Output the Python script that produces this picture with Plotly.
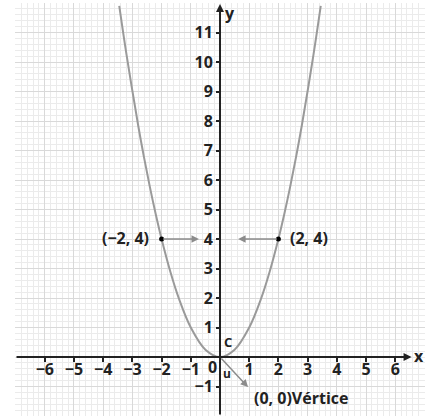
import plotly.graph_objects as go

curve_x = [-3.45, -3.2, -2.8, -2.6, -2.4, -2.2, -2.0, -1.7, -1.4, -1.0, -0.5, 0.0,
           0.5, 1.0, 1.4, 1.7, 2.0, 2.2, 2.4, 2.6, 2.8, 3.2, 3.45]
curve_y = [11.9, 10.24, 7.84, 6.76, 5.76, 4.84, 4.0, 2.89, 1.96, 1.0, 0.25, 0.0,
           0.25, 1.0, 1.96, 2.89, 4.0, 4.84, 5.76, 6.76, 7.84, 10.24, 11.9]

# marked points
pts_x = [-2, 2]
pts_y = [4, 4]

x_ticks = [-6, -5, -4, -3, -2, -1, 1, 2, 3, 4, 5, 6]
x_labels = ["−6", "−5", "−4", "−3", "−2", "−1", "1", "2", "3", "4", "5", "6"]
y_ticks = [-1, 1, 2, 3, 4, 5, 6, 7, 8, 9, 10, 11]
y_labels = ["−1", "1", "2", "3", "4", "5", "6", "7", "8", "9", "10", "11"]

x_rng = [-7.02, 7.02]
y_rng = [-2.0, 12.0]

ink = "#222222"
gray = "#8c8c8c"
font = dict(family="Open Sans", size=16, color=ink, weight="bold")

fig = go.Figure()

fig.add_trace(go.Scatter(
    x=curve_x, y=curve_y,
    mode="lines",
    line=dict(color="#9a9a9a", width=2, shape="spline"),
    hoverinfo="skip",
))

fig.add_trace(go.Scatter(
    x=pts_x, y=pts_y,
    mode="markers",
    marker=dict(color="black", size=5),
    hoverinfo="skip",
))

anns = []
# axis lines with arrow heads
anns.append(dict(x=6.56, y=0, ax=x_rng[0], ay=0, xref="x", yref="y", axref="x", ayref="y",
                 showarrow=True, arrowhead=2, arrowsize=0.8, arrowwidth=2, arrowcolor=ink, text=""))
anns.append(dict(x=0, y=11.97, ax=0, ay=y_rng[0], xref="x", yref="y", axref="x", ayref="y",
                 showarrow=True, arrowhead=2, arrowsize=0.8, arrowwidth=2, arrowcolor=ink, text=""))
# pointer arrows
anns.append(dict(x=-0.72, y=4, ax=-2, ay=4, xref="x", yref="y", axref="x", ayref="y",
                 showarrow=True, arrowhead=2, arrowsize=1, arrowwidth=1.5, arrowcolor=gray, text=""))
anns.append(dict(x=0.62, y=4, ax=2, ay=4, xref="x", yref="y", axref="x", ayref="y",
                 showarrow=True, arrowhead=2, arrowsize=1, arrowwidth=1.5, arrowcolor=gray, text=""))
anns.append(dict(x=0.96, y=-1.02, ax=0, ay=0, xref="x", yref="y", axref="x", ayref="y",
                 showarrow=True, arrowhead=2, arrowsize=1, arrowwidth=1.5, arrowcolor=gray, text=""))

# text labels
def label(txt, x, y, xanchor="center", size=16):
    f = dict(font)
    f["size"] = size
    anns.append(dict(x=x, y=y, xref="x", yref="y", text=txt, showarrow=False,
                     xanchor=xanchor, yanchor="middle", font=f))

label("(−2, 4)", -2.35, 4.02, "right")
label("(2, 4)", 2.33, 4.02, "left")
label("(0, 0)Vértice", 1.1, -1.39, "left")
label("x", 6.82, 0.03)
label("y", 0.33, 11.66)
label("0", -0.24, -0.34)
label("C", 0.26, 0.52, size=13)
label("u", 0.24, -0.56, size=12)

fig.update_layout(
    width=434, height=416,
    margin=dict(l=15, r=9, t=3, b=0),
    paper_bgcolor="white",
    plot_bgcolor="white",
    showlegend=False,
    annotations=anns,
    font=font,
)

fig.update_xaxes(
    range=x_rng, anchor="free", position=2.0 / 14.0,
    tickmode="array", tickvals=x_ticks, ticktext=x_labels,
    ticks="outside", ticklen=4, tickwidth=1.5, tickcolor=ink,
    ticklabelstandoff=-6,
    showline=False, zeroline=False,
    showgrid=True, gridcolor="#d9d9d9", gridwidth=1,
    minor=dict(dtick=0.2, tick0=0, showgrid=True, gridcolor="#ebebeb", gridwidth=1),
    tickfont=font, fixedrange=True,
)
fig.update_yaxes(
    range=y_rng, anchor="free", position=0.5,
    tickmode="array", tickvals=y_ticks, ticktext=y_labels,
    ticks="outside", ticklen=4, tickwidth=1.5, tickcolor=ink,
    showline=False, zeroline=False,
    showgrid=True, gridcolor="#d9d9d9", gridwidth=1,
    minor=dict(dtick=0.2, tick0=0, showgrid=True, gridcolor="#ebebeb", gridwidth=1),
    tickfont=font, fixedrange=True,
)

# drop the default page margin so the figure sits at the window corner
fig.write_html("out.html", config={"displayModeBar": False},
               post_script="document.body.style.margin='0px';")
